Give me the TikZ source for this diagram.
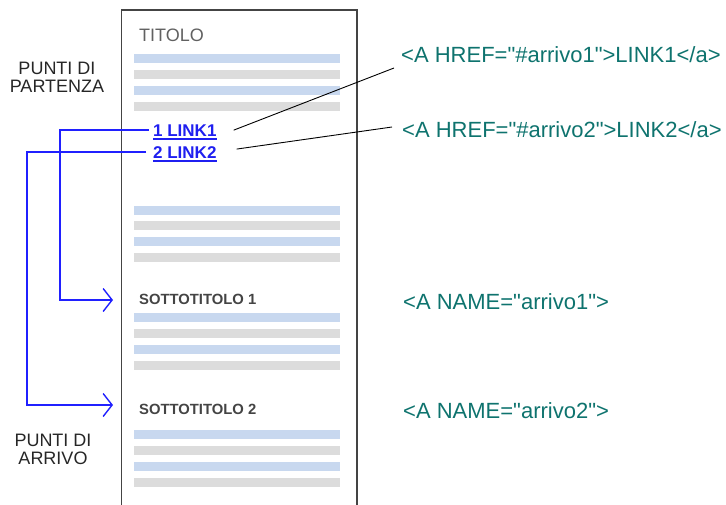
\documentclass[tikz,border=0pt]{standalone}
\usepackage{fontspec}
\setmainfont{Liberation Sans}
\newfontfamily\codefont{Liberation Sans}[Ligatures=NoCommon]
\usetikzlibrary{arrows.meta,calc}
\definecolor{teal1}{HTML}{0E736E}
\definecolor{linkblue}{HTML}{1F1FF0}
\definecolor{lineblue}{HTML}{2020FF}
\definecolor{barblue}{HTML}{C8D8EF}
\definecolor{bargrey}{HTML}{DCDCDC}
\definecolor{boxgrey}{HTML}{444444}
\tikzset{
  lbl/.style={inner sep=0pt, anchor=base west},
  side/.style={inner sep=0pt, align=center, font=\fontsize{18}{18}\selectfont, text=black!85},
  code/.style={lbl, text=teal1, font=\codefont\fontsize{22}{24}\selectfont},
  linkt/.style={lbl, text=linkblue, font=\fontsize{17}{20}\selectfont\bfseries},
  subt/.style={lbl, text=boxgrey, font=\fontsize{14.8}{16}\selectfont\bfseries},
  bluebar/.style={fill=barblue},
  greybar/.style={fill=bargrey},
  jump/.style={draw=lineblue, line width=1.5pt, -{Straight Barb[length=9pt,width=23pt,line width=1.4pt]}},
  pointer/.style={draw=black, line width=0.9pt}
}
\begin{document}
\begin{tikzpicture}[x=1pt,y=-1pt]
\useasboundingbox (0,0) rectangle (726,504);
\clip (0,0) rectangle (726,504);
% page box
\draw[boxgrey, line width=1.6pt] (121.5,520) -- (121.5,10) -- (357,10) -- (357,520);
% bars
\foreach \y in {54,86,206,237,313,345,430,462}
  \fill[bluebar] (134,\y) rectangle (340,\y+9);
\foreach \y in {69.5,102,221,253,329,361,446,478}
  \fill[greybar] (134,\y) rectangle (340,\y+9);
% texts
\node[lbl, text=black!62, font=\fontsize{18}{20}\selectfont] (tit) at (139,41) {TITOLO};
\node[side] (part) at (57,77) {PUNTI DI\\PARTENZA};
\node[side] (arr) at (53,449.5) {PUNTI DI\\ARRIVO};
\node[linkt] (l1) at (153,136) {1 LINK1};
\node[linkt] (l2) at (153,158) {2 LINK2};
\draw[linkblue, line width=1.3pt] (l1.base west) ++(0,3) -- ($(l1.base east)+(0,3)$);
\draw[linkblue, line width=1.3pt] (l2.base west) ++(0,3) -- ($(l2.base east)+(0,3)$);
\node[subt] (s1) at (139,304) {SOTTOTITOLO 1};
\node[subt] (s2) at (139,414) {SOTTOTITOLO 2};
\node[code] (h1) at (401,62) {<A HREF="\#arrivo1">LINK1</a>};
\node[code] (h2) at (402,137) {<A HREF="\#arrivo2">LINK2</a>};
\node[code] (n1) at (403,309) {<A NAME="arrivo1">};
\node[code] (n2) at (403,418) {<A NAME="arrivo2">};
% jump connectors
\coordinate (t1) at (113,300);
\coordinate (t2) at (113,405);
\coordinate (c1) at (60,0);
\coordinate (c2) at (27,0);
\draw[jump] ($(l1.west)+(-4,0)$) -- ($(l1.west -| c1)+(0,0)$) |- (t1);
\draw[jump] ($(l2.west)+(-7,0)$) -- ($(l2.west -| c2)$) |- (t2);
% pointer lines
\draw[pointer] ($(l1.east)+(17,0)$) -- ($(h1.base west)+(-7,6)$);
\draw[pointer] ($(l2.east)+(20,-3)$) -- ($(h2.base west)+(-10,-10)$);
\end{tikzpicture}
\end{document}
